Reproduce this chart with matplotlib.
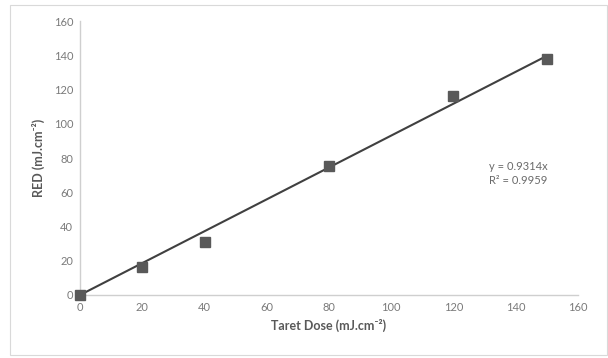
import numpy as np
import matplotlib.pyplot as plt
from matplotlib.patches import Rectangle

target_dose = [0, 20, 40, 80, 120, 150]
red = [0, 16.5, 31, 75.5, 116, 138]
slope = 0.9314
r2 = 0.9959

plt.rcParams['font.family'] = ['Lato', 'DejaVu Sans']

fig = plt.figure(figsize=(6.08, 3.58), dpi=100)
ax = fig.add_axes([0.1316, 0.176, 0.819, 0.765])

# excel-style chart border
fig.patches.append(Rectangle((0.016, 0.008), 0.982, 0.978, transform=fig.transFigure,
                             fill=False, edgecolor='#d9d9d9', linewidth=0.8))

xfit = np.array([0, max(target_dose)])
ax.plot(xfit, slope * xfit, color='#404040', linewidth=1.5, zorder=2)
ax.plot(target_dose, red, linestyle='none', marker='s', markersize=6.5,
        color='#595959', zorder=3, clip_on=False)

ax.set_xlim(0, 160)
ax.set_ylim(0, 160)
ax.set_xticks(range(0, 161, 20))
ax.set_yticks(range(0, 161, 20))

for s in ['top', 'right']:
    ax.spines[s].set_visible(False)
for s in ['left', 'bottom']:
    ax.spines[s].set_color('#cfcfcf')
    ax.spines[s].set_linewidth(1.0)
ax.tick_params(length=0, labelsize=8, colors='#7a7a7a', pad=5)

ax.set_xlabel('Taret Dose (mJ.cm⁻²)', fontsize=9, fontweight='bold', color='#595959', labelpad=4)
ax.set_ylabel('RED (mJ.cm⁻²)', fontsize=9, fontweight='bold', color='#595959', labelpad=6)

ax.text(131.5, 71, 'y = %.4fx\nR² = %.4f' % (slope, r2), fontsize=8, color='#6a6a6a',
        va='center', ha='left', linespacing=1.3)

fig.savefig('out.png', dpi=100)
